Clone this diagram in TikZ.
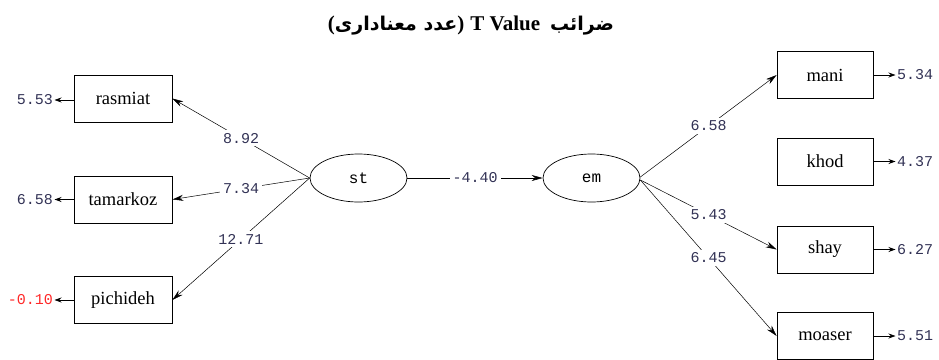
\documentclass[tikz,border=0pt]{standalone}
\usepackage{fontspec}
\setmainfont{Liberation Serif}
\newfontfamily\arabicfont[Script=Arabic]{DejaVu Sans}
\newfontfamily\monofont{Liberation Mono}
\TeXXeTstate=1
\usetikzlibrary{arrows.meta,shapes.geometric}
\definecolor{numc}{RGB}{50,50,85}
\definecolor{negc}{RGB}{255,40,40}
\begin{document}
\begin{tikzpicture}[x=1pt,y=-1pt,
  obs/.style={draw, line width=0.7pt, minimum width=98pt, minimum height=47pt, inner sep=0pt, font=\fontsize{18.5}{18.5}\selectfont},
  lat/.style={draw, ellipse, line width=0.7pt, minimum width=97pt, minimum height=48pt, inner sep=0pt, font=\monofont\fontsize{16}{16}\selectfont},
  val/.style={font=\monofont\fontsize{15}{15}\selectfont, text=numc, inner sep=0pt},
  lbl/.style={val, fill=white, inner sep=3pt},
  pth/.style={draw, line width=0.5pt, -{Stealth[length=11pt,width=6pt]}},
  errarr/.style={draw, line width=0.8pt, -{Stealth[length=7pt,width=5pt]}, shorten >=1.5pt}
]
\useasboundingbox (0,0) rectangle (939,359);
% title
\node (title) at (471,26) {\bfseries\fontsize{21}{21}\selectfont ({\arabicfont\fontsize{19}{19}\selectfont\beginR عدد معناداری\endR})\hspace{6pt}T Value\hspace{10pt}{\arabicfont\fontsize{19}{19}\selectfont\beginR ضرائب\endR}};
% observed (left)
\node[obs] (rasmiat) at (123,98.5) {rasmiat};
\node[obs] (tamarkoz) at (123,199.5) {tamarkoz};
\node[obs] (pichideh) at (123,300) {pichideh};
% latent
\node[lat] (st) at (358.5,178) {st};
\node[lat] (em) at (591.5,178) {em};
% observed (right)
\node[obs, minimum width=96pt] (mani) at (825,75) {mani};
\node[obs, minimum width=96pt] (khod) at (825,161.5) {khod};
\node[obs, minimum width=96pt] (shay) at (825,249.5) {shay};
\node[obs, minimum width=96pt] (moaser) at (825,336) {moaser};
% error values
\node[val, anchor=east] (e1) at (53,100) {5.53};
\node[val, anchor=east] (e2) at (53,199.5) {6.58};
\node[val, anchor=east, text=negc] (e3) at (53,300) {-0.10};
\node[val, anchor=west] (e4) at (897,75) {5.34};
\node[val, anchor=west] (e5) at (897,161.5) {4.37};
\node[val, anchor=west] (e6) at (897,249.5) {6.27};
\node[val, anchor=west] (e7) at (897,336) {5.51};
\draw[errarr] (rasmiat.west |- e1) -- (e1);
\draw[errarr] (tamarkoz.west) -- (e2);
\draw[errarr] (pichideh.west) -- (e3);
\draw[errarr] (mani.east) -- (e4);
\draw[errarr] (khod.east) -- (e5);
\draw[errarr] (shay.east) -- (e6);
\draw[errarr] (moaser.east) -- (e7);
% paths
\draw[pth] (st.west) -- node[lbl] {8.92} (rasmiat.east);
\draw[pth] (st.west) -- node[lbl] {7.34} (tamarkoz.east);
\draw[pth] (st.west) -- node[lbl] {12.71} (pichideh.east);
\draw[pth] (st) -- node[lbl] {-4.40} (em);
\draw[pth] ([yshift=1pt]em.east) -- node[lbl] {6.58} (mani.west);
\draw[pth] ([yshift=-2pt]em.east) -- node[lbl] {5.43} (shay.west);
\draw[pth] ([yshift=-2pt]em.east) -- node[lbl] {6.45} (moaser.west);
\end{tikzpicture}
\end{document}
